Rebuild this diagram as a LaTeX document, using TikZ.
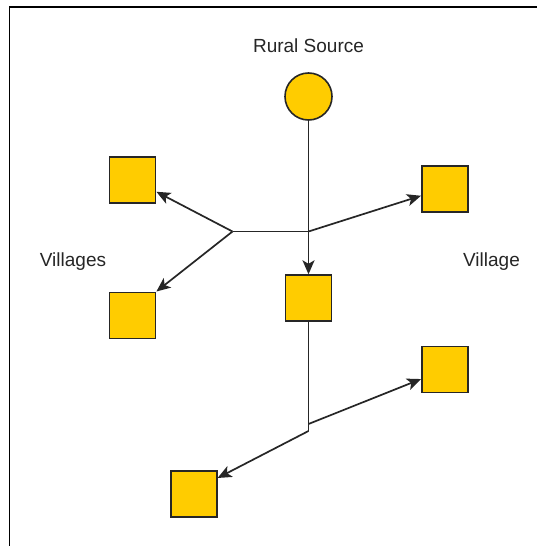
\documentclass[tikz,border=0pt]{standalone}
\usepackage{fontspec}
\setmainfont{Liberation Sans}
\usetikzlibrary{arrows.meta}
\definecolor{gold}{HTML}{FFCC00}
\definecolor{edge}{HTML}{262626}
\begin{document}
\begin{tikzpicture}[x=1pt,y=-1pt,
  village/.style={draw=edge,fill=gold,line width=1.8pt,minimum size=46pt,inner sep=0pt,rectangle},
  source/.style={draw=edge,fill=gold,line width=1.6pt,minimum size=47pt,inner sep=0pt,circle},
  lbl/.style={font=\fontsize{19}{23}\selectfont,text=black!85,inner sep=0pt},
  conn/.style={draw=edge,line width=1.7pt},
  arr/.style={conn,-{Stealth[length=14pt,width=12pt,inset=3.5pt]}}]
\useasboundingbox (0,0) rectangle (536,546);
\fill[white] (0,0) rectangle (536,546);
\draw[line width=1.6pt,black] (9.5,560) -- (9.5,7) -- (560,7);
% nodes
\node[lbl] (srclbl) at (308.5,46) {Rural Source};
\node[lbl] (villages) at (73,262) {Villages};
\node[lbl] (villagelbl) at (491.5,262) {Village};
\node[source] (src) at (308.5,96.5) {};
\node[village] (tl) at (132.5,179.6) {};
\node[village] (ll) at (132.5,315.4) {};
\node[village] (c) at (308.5,298.2) {};
\node[village] (tr) at (444.9,188.9) {};
\node[village] (lr) at (444.9,369.4) {};
\node[village] (bl) at (193.7,494.1) {};
\coordinate (j1) at (232.5,231.5);
\coordinate (j2) at (308.5,231.5);
\coordinate (j3) at (308.5,431);
\coordinate (j4) at (308.5,424);
% connectors
\draw[arr] (src) -- (c);
\draw[conn] (j2) -- (j1);
\draw[arr] (j1) -- (tl.-27);
\draw[arr] (j1) -- (ll.north east);
\draw[arr] (j2) -- (tr.-164);
\draw[conn] (c) -- (j3);
\draw[arr] (j3) -- (bl.34);
\draw[arr] (j4) -- (lr.-158);
\end{tikzpicture}
\end{document}
